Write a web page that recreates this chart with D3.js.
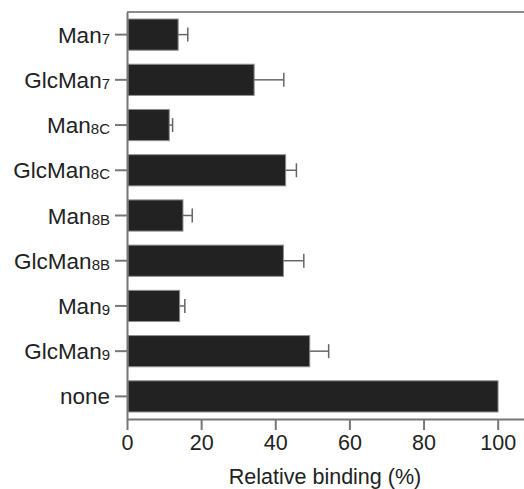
<!DOCTYPE html>
<html>
<head>
<meta charset="utf-8">
<script src="https://cdn.jsdelivr.net/npm/d3@7"></script>
<style>
	body { margin: 0; background: #fff; }
	svg { display: block; font-family: "Liberation Sans", Arial, sans-serif; }
</style>
</head>
<body>
<div id="chart"></div>
<script>

// glycan names and their subscripts
var names  = ['Man', 'GlcMan', 'Man', 'GlcMan', 'Man', 'GlcMan', 'Man', 'GlcMan', 'none'];
var subs   = ['7', '7', '8C', '8C', '8B', '8B', '9', '9', ''];

// relative binding (%) and the error bar (one sided)
var values = [13.8, 34.3, 11.4, 42.8, 15.1, 42.2, 14.2, 49.3, 100.1];
var errors = [2.6, 8.0, 0.9, 2.9, 2.5, 5.5, 1.4, 5.1, 0];

var xTicks = [0, 20, 40, 60, 80, 100];

drawChart();

function drawChart() {

	var width = 524, height = 489;
	var plotLeft = 127, plotTop = 12, plotBottom = 419;

	var data = names.map(function(n, i) {
		return { key: n + subs[i], name: n, sub: subs[i], value: values[i], err: errors[i] };
	});

	var svg = d3.select('#chart')
				.append('svg')
				.attr('width', width)
				.attr('height', height);

	var x = d3.scaleLinear()
			  .domain([0, 107.1])
			  .range([plotLeft, width]);

	var y = d3.scaleBand()
			  .domain(data.map(function(d) { return d.key; }))
			  .range([plotTop, plotBottom])
			  .paddingInner(0.31)
			  .paddingOuter(0.155);

	// top frame line
	svg.append('line')
	   .attr('x1', plotLeft).attr('x2', width)
	   .attr('y1', plotTop).attr('y2', plotTop)
	   .attr('stroke', '#8a8a8a')
	   .attr('stroke-width', 2);

	// bars
	svg.append('g')
	   .selectAll('rect')
	   .data(data)
	   .enter()
	   .append('rect')
	   .attr('x', x(0) + 1)
	   .attr('y', function(d) { return y(d.key); })
	   .attr('width', function(d) { return x(d.value) - x(0) - 1; })
	   .attr('height', y.bandwidth())
	   .attr('fill', '#222')
	   .attr('stroke', '#8f8f8f')
	   .attr('stroke-width', 1);

	// error bars
	var eb = svg.append('g')
				.selectAll('g')
				.data(data.filter(function(d) { return d.err > 0; }))
				.enter()
				.append('g')
				.attr('stroke', '#666')
				.attr('stroke-width', 1.5);

	eb.append('line')
	  .attr('x1', function(d) { return x(d.value); })
	  .attr('x2', function(d) { return x(d.value + d.err); })
	  .attr('y1', function(d) { return y(d.key) + y.bandwidth() / 2; })
	  .attr('y2', function(d) { return y(d.key) + y.bandwidth() / 2; });

	eb.append('line')
	  .attr('x1', function(d) { return x(d.value + d.err); })
	  .attr('x2', function(d) { return x(d.value + d.err); })
	  .attr('y1', function(d) { return y(d.key) + y.bandwidth() / 2 - 7; })
	  .attr('y2', function(d) { return y(d.key) + y.bandwidth() / 2 + 7; });

	// x axis
	var xAxis = svg.append('g')
				   .attr('transform', 'translate(0,' + plotBottom + ')')
				   .call(d3.axisBottom(x).tickValues(xTicks).tickSize(11).tickSizeOuter(0).tickPadding(5));

	xAxis.attr('font-size', 21.5)
		 .attr('font-family', '"Liberation Sans", Arial, sans-serif');
	xAxis.selectAll('text').attr('fill', '#222');

	// y axis
	var yAxis = svg.append('g')
				   .attr('transform', 'translate(' + plotLeft + ',0)')
				   .call(d3.axisLeft(y).tickSize(12).tickSizeOuter(0).tickPadding(5));

	yAxis.attr('font-size', 22.5)
		 .attr('font-family', '"Liberation Sans", Arial, sans-serif');

	yAxis.selectAll('text')
		 .attr('fill', '#222')
		 .attr('dy', '0.36em')
		 .each(function(k, i) {
		 	var t = d3.select(this).text('');
		 	t.append('tspan').text(data[i].name);
		 	if (data[i].sub) {
		 		t.append('tspan').attr('font-size', 15).attr('dy', 1).text(data[i].sub);
		 	}
		 });

	svg.selectAll('.domain, .tick line')
	   .attr('stroke', '#777')
	   .attr('stroke-width', 2);

	// axis title
	svg.append('text')
	   .attr('x', 325)
	   .attr('y', 484)
	   .attr('text-anchor', 'middle')
	   .attr('font-size', 21.5)
	   .attr('fill', '#222')
	   .text('Relative binding (%)');
}

</script>
</body>
</html>
